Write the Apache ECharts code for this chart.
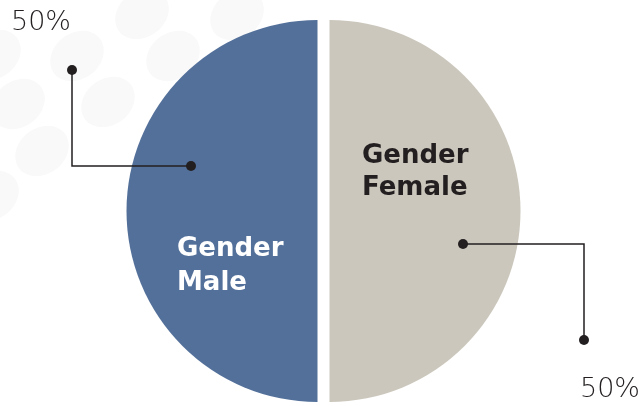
<!DOCTYPE html>
<html>
<head>
<meta charset="utf-8">
<script src="https://cdn.jsdelivr.net/npm/echarts@6/dist/echarts.min.js"></script>
<style>
  html, body { margin: 0; padding: 0; background: #fff; }
  #main { width: 644px; height: 406px; }
</style>
</head>
<body>
<div id="main"></div>
<script>
const categories = ['Gender Male', 'Gender Female']
const values = [50, 50]
const percentLabels = ['50%', '50%']
const colors = ['#53709a', '#cbc7bc']

const chart = echarts.init(document.getElementById('main'), null, { renderer: 'canvas' })

// faint decorative blobs in the background
const blobs = [
  [142, 14], [237, 15], [77, 56], [173, 56], [-6, 55], [108, 102], [18, 104], [42, 151], [-8, 196]
].map(([x, y]) => ({
  type: 'circle',
  x, y,
  rotation: 0.65,
  scaleX: 1.25,
  shape: { r: 23 },
  style: { fill: '#f9f9f9' },
  z: -10
}))

const labelFont = '"DejaVu Sans", sans-serif'

function callout(points, pct, pctPos) {
  return [
    { type: 'polyline', shape: { points }, style: { stroke: '#231f20', lineWidth: 1.5, fill: null }, z: 10 },
    { type: 'circle', x: points[0][0], y: points[0][1], shape: { r: 5 }, style: { fill: '#231f20' }, z: 11 },
    { type: 'circle', x: points[2][0], y: points[2][1], shape: { r: 5 }, style: { fill: '#231f20' }, z: 11 },
    { type: 'text', x: pctPos[0], y: pctPos[1], style: { text: pct, fill: '#231f20', font: '200 27px ' + labelFont, textVerticalAlign: 'top' }, z: 11 }
  ]
}

const option = {
  backgroundColor: '#ffffff',
  color: colors,
  animation: false,
  graphic: [
    ...blobs,
    ...callout([[191, 166], [72, 166], [72, 70]], percentLabels[0], [11, 9]),
    ...callout([[463, 244], [584, 244], [584, 340]], percentLabels[1], [580, 376]),
    {
      type: 'text', x: 177, y: 232, z: 11,
      style: { text: categories[0].replace(' ', '\n'), fill: '#ffffff', font: 'bold 26px ' + labelFont, lineHeight: 34 }
    },
    {
      type: 'text', x: 362, y: 140, z: 11,
      style: { text: categories[1].replace(' ', '\n'), fill: '#231f20', font: 'bold 26px ' + labelFont, lineHeight: 32 }
    }
  ],
  series: [{
    type: 'pie',
    center: [323.5, 211],
    radius: 191,
    startAngle: 270,
    clockwise: true,
    selectedMode: 'multiple',
    selectedOffset: 6,
    label: { show: false },
    labelLine: { show: false },
    emphasis: { disabled: true },
    data: categories.map((name, i) => ({ name, value: values[i], selected: true }))
  }]
}

chart.setOption(option)
</script>
</body>
</html>
